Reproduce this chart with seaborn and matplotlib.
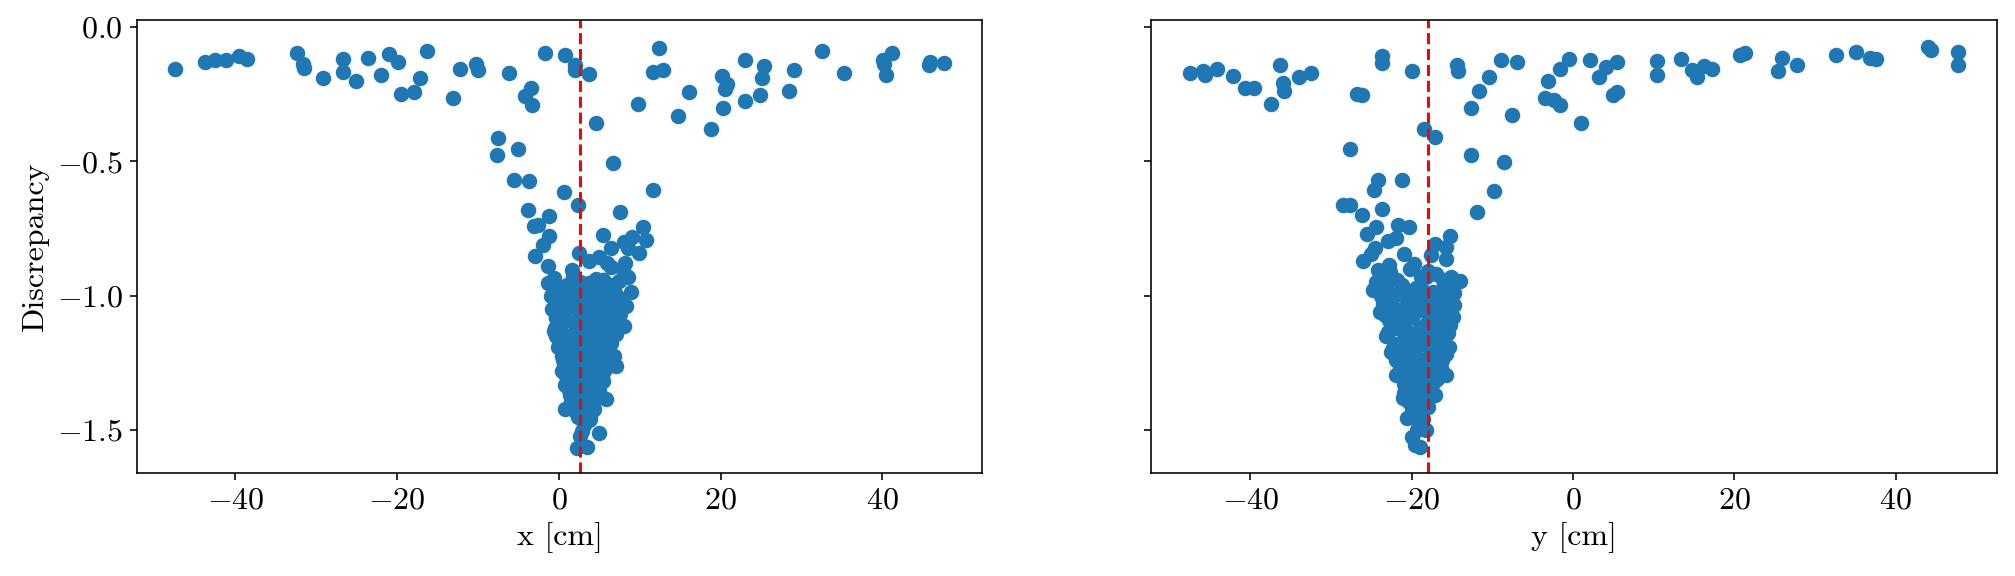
import matplotlib
matplotlib.use("Agg")
import matplotlib.pyplot as plt
import seaborn as sns
import pandas as pd

# discrepancy vs x position (left panel)
x_pos = [
    -47.4, -43.7, -42.5, -41.2, -39.5, -38.6, -32.4, -31.6, -31.5, -29.1,
    -26.7, -26.7, -25.1, -23.6, -22.0, -21.0, -19.9, -19.5, -17.9, -17.2,
    -16.3, -13.1, -12.2, -10.2, -10.0, -6.2, -3.4, -4.2, -3.3, -1.7,
    0.7, -7.5, -7.7, -5.1, -5.5, -3.7, 0.6, -3.8, -1.2,
    2.0, 2.0, 3.7, 12.4, 11.6, 12.9, 9.75, 4.6, 16.1, 14.7,
    18.8, 20.2, 20.8, 20.5, 20.3, 23.0, 23.0, 25.3, 25.1, 24.8,
    29.0, 28.4, 32.5, 35.2, 40.1, 40.2, 41.2, 40.4, 45.7, 45.9,
    47.6, 6.7, 2.4, 11.6, 7.5,
    -3.1, -2.55, -1.2, -2.0, -2.9, -1.4, 5.5, 10.4, 10.8, 9.0,
    8.0, 6.4, 8.6, 9.9, 2.5, 3.7, 4.9, 6.0, 6.5, 8.2,
    8.0, 1.6, 1.8, -0.6, -1.4, 3.7, 4.6, 5.4, 7.4, 8.9,
    -1.0, 0.2, 0.8, 3.5, 7.4, -0.8, 7.0, 7.6, -0.4, 8.0,
    -0.6, -0.4, 7.0, 6.4, 0.2, 0.4, 6.8, 7.0, 0.6, 5.4,
    5.4, 0.8, 1.4, 5.8, 0.8, 2.5, 4.2, 3.7, 2.9, 4.9,
    2.2, 3.5,
    -0.2, 1.0, 2.2, 3.0, 4.2, 5.8, 6.5,
    0.1, 1.5, 2.0, 4.4, 5.2, 6.1,
    -0.3, 0.9, 2.6, 3.3, 4.0, 5.5, 6.4,
    0.3, 1.3, 2.2, 3.9, 4.7, 5.9,
    -0.1, 1.0, 1.9, 3.1, 4.3, 5.6, 6.2,
    0.5, 1.6, 2.8, 3.6, 4.9, 5.8,
    0.9, 1.8, 2.5, 3.4, 4.5,
    1.2, 2.1, 3.0, 4.0, 5.0,
    1.7, 3.2, 4.3, 2.3, 3.8, 3.1,
    1.8, 2.9, 0.6, 2.7, 3.7, 4.9,
    0.4, 1.5, 2.6, 3.5, 4.6, 5.4, 6.6,
    -0.1, 0.8, 1.9, 3.0, 4.0, 5.0, 5.9,
    0.2, 1.2, 2.4, 3.4, 4.4, 5.3, 6.4,
    0.6, 1.5, 2.6, 3.8, 4.6, 5.5,
    1.0, 2.0, 3.0, 3.9, 4.8,
    1.5, 2.6, 3.5, 4.4,
    2.0, 2.9, 3.9, 2.6,
    -0.5, 0.4, 6.9, 7.3, 8.3, 8.6,
]
x_disc = [
    -0.155, -0.129, -0.125, -0.125, -0.108, -0.118, -0.099, -0.137, -0.152, -0.189,
    -0.118, -0.168, -0.203, -0.114, -0.180, -0.102, -0.129, -0.249, -0.241, -0.189,
    -0.088, -0.263, -0.155, -0.137, -0.162, -0.170, -0.229, -0.256, -0.290, -0.096,
    -0.106, -0.413, -0.476, -0.456, -0.570, -0.573, -0.614, -0.681, -0.703,
    -0.143, -0.162, -0.176, -0.077, -0.166, -0.162, -0.285, -0.356, -0.244, -0.331,
    -0.379, -0.184, -0.211, -0.230, -0.301, -0.122, -0.274, -0.147, -0.189, -0.255,
    -0.162, -0.240, -0.091, -0.170, -0.122, -0.137, -0.099, -0.180, -0.140, -0.131,
    -0.133, -0.506, -0.663, -0.606, -0.688,
    -0.742, -0.736, -0.777, -0.811, -0.852, -0.889, -0.774, -0.746, -0.793, -0.783,
    -0.802, -0.821, -0.821, -0.840, -0.840, -0.871, -0.856, -0.877, -0.893, -0.877,
    -0.914, -0.905, -0.927, -0.933, -0.951, -0.951, -0.939, -0.943, -0.945, -0.986,
    -1.001, -0.989, -1.020, -1.013, -1.007, -1.051, -1.045, -1.069, -1.082, -1.113,
    -1.132, -1.150, -1.144, -1.175, -1.188, -1.225, -1.225, -1.262, -1.256, -1.287,
    -1.318, -1.331, -1.368, -1.383, -1.420, -1.430, -1.424, -1.461, -1.505, -1.511,
    -1.565, -1.561,
    -0.97, -0.96, -0.98, -0.99, -0.97, -0.98, -0.96,
    -1.03, -1.04, -1.02, -1.03, -1.05, -1.02,
    -1.08, -1.09, -1.07, -1.10, -1.08, -1.09, -1.10,
    -1.13, -1.15, -1.12, -1.14, -1.12, -1.15,
    -1.19, -1.20, -1.18, -1.21, -1.19, -1.20, -1.18,
    -1.24, -1.26, -1.24, -1.25, -1.24, -1.27,
    -1.30, -1.29, -1.31, -1.30, -1.32,
    -1.35, -1.36, -1.34, -1.37, -1.35,
    -1.40, -1.41, -1.42, -1.45, -1.46, -1.48,
    -1.00, -1.05, -1.17, -1.16, -1.04, -1.00,
    -1.00, -1.01, -0.95, -1.06, -1.00, -0.94, -1.01,
    -1.11, -1.06, -1.10, -1.12, -1.11, -1.13, -1.06,
    -1.16, -1.22, -1.15, -1.18, -1.16, -1.17, -1.14,
    -1.28, -1.21, -1.27, -1.21, -1.28, -1.23,
    -1.33, -1.33, -1.27, -1.33, -1.28,
    -1.39, -1.39, -1.38, -1.39,
    -1.43, -1.43, -1.44, -1.52,
    -1.12, -1.28, -0.99, -1.10, -1.04, -0.93,
]

# discrepancy vs y position (right panel)
y_pos = [
    -47.5, -45.9, -45.6, -44.1, -42.1, -40.7, -39.5, -37.5, -36.3, -35.9,
    -35.8, -34.0, -32.5, -26.8, -26.1, -23.7, -23.7, -20.0, -18.5, -17.1,
    -27.7, -14.4, -14.2, -8.9, -6.9, -10.4, -11.6, -12.7, -7.6, -3.1,
    -3.5, -12.6, -8.55, -24.2, -24.7, -21.2, -9.8, -11.9, -28.5, -27.6,
    -26.1, -23.7,
    -1.65, -0.5, -2.3, -1.65, 1.04, 2.15, 4.05, 3.2, 5.45, 4.95,
    5.4, 10.4, 10.4, 13.4, 14.8, 15.4, 16.3, 17.2, 20.7, 21.3,
    25.9, 25.4, 27.8, 32.6, 35.1, 36.8, 37.6, 44.0, 44.4, 47.8,
    47.8,
    -24.4, -25.5, -21.7, -20.3, -22.9, -22.0, -24.6, -25.0, -26.0, -20.9,
    -19.7, -22.8, -24.2, -15.3, -17.1, -15.7, -17.6, -15.8, -18.0, -18.8,
    -23.3, -24.8, -15.1, -15.5, -19.0, -21.9, -20.6, -17.3, -23.3, -22.9,
    -22.3, -21.9, -21.9, -15.7, -21.1, -18.0, -20.6, -19.2, -20.0, -18.2,
    -19.0, -19.6,
    -15.3, -14.0, -16.1, -14.7, -14.9, -15.5, -15.7, -17.3, -18.2,
    -23.0, -21.2, -19.5, -17.8, -16.3,
    -23.6, -22.1, -20.4, -18.6, -17.0, -15.8,
    -22.8, -21.5, -19.9, -18.3, -16.6,
    -23.2, -21.0, -20.2, -18.9, -17.4, -16.1,
    -22.6, -20.9, -19.6, -18.1, -16.9,
    -21.4, -20.1, -18.7, -17.2, -16.4,
    -21.0, -19.8, -18.5, -17.6,
    -20.4, -19.3, -17.9, -19.8, -18.6, -19.4,
    -21.8, -18.2, -20.0,
    -22.4, -20.8, -19.1, -17.4, -15.9, -14.8,
    -23.9, -22.6, -21.1, -19.6, -18.0, -16.5, -15.2,
    -22.1, -20.6, -19.0, -17.7, -16.0,
    -21.9, -20.5, -19.1, -17.8, -16.6, -15.4,
    -21.8, -20.5, -19.2, -17.8, -16.2,
    -20.7, -19.4, -18.1, -16.9,
    -20.9, -19.9, -18.4, -17.1,
    -19.9, -18.9, -19.1,
    -23.8, -24.4, -22.7, -20.2, -17.0, -16.4,
]
y_disc = [
    -0.170, -0.164, -0.180, -0.155, -0.181, -0.229, -0.229, -0.285, -0.140, -0.208,
    -0.239, -0.188, -0.170, -0.248, -0.255, -0.109, -0.136, -0.165, -0.378, -0.411,
    -0.455, -0.142, -0.164, -0.124, -0.131, -0.188, -0.239, -0.300, -0.328, -0.202,
    -0.263, -0.475, -0.504, -0.570, -0.605, -0.568, -0.612, -0.687, -0.664, -0.661,
    -0.700, -0.679,
    -0.155, -0.120, -0.273, -0.289, -0.356, -0.124, -0.149, -0.186, -0.132, -0.254,
    -0.242, -0.126, -0.180, -0.118, -0.161, -0.186, -0.145, -0.158, -0.103, -0.099,
    -0.115, -0.164, -0.140, -0.105, -0.093, -0.114, -0.121, -0.074, -0.087, -0.093,
    -0.142,
    -0.744, -0.771, -0.737, -0.744, -0.796, -0.787, -0.824, -0.843, -0.870, -0.845,
    -0.882, -0.886, -0.905, -0.778, -0.808, -0.818, -0.849, -0.865, -0.907, -0.930,
    -0.936, -0.977, -0.930, -0.954, -0.967, -0.998, -0.985, -0.985, -1.072, -1.134,
    -1.196, -1.240, -1.295, -1.295, -1.382, -1.413, -1.456, -1.450, -1.527, -1.500,
    -1.562, -1.556,
    -0.942, -0.946, -0.942, -1.035, -1.078, -1.140, -1.215, -1.326, -1.413,
    -0.98, -0.96, -0.97, -0.99, -0.98,
    -1.03, -1.05, -1.02, -1.04, -1.03, -1.06,
    -1.09, -1.10, -1.08, -1.11, -1.09,
    -1.15, -1.16, -1.14, -1.17, -1.15, -1.16,
    -1.21, -1.22, -1.20, -1.23, -1.21,
    -1.27, -1.28, -1.26, -1.29, -1.27,
    -1.33, -1.34, -1.32, -1.35,
    -1.39, -1.40, -1.38, -1.44, -1.46, -1.50,
    -0.94, -0.93, -1.00,
    -1.01, -1.00, -1.02, -1.01, -1.01, -0.99,
    -1.06, -1.07, -1.05, -1.06, -1.07, -1.06, -1.11,
    -1.12, -1.13, -1.12, -1.13, -1.12,
    -1.18, -1.19, -1.18, -1.19, -1.18, -1.19,
    -1.24, -1.25, -1.24, -1.25, -1.24,
    -1.30, -1.31, -1.30, -1.31,
    -1.36, -1.37, -1.36, -1.37,
    -1.42, -1.42, -1.48,
    -1.00, -0.95, -0.91, -0.90, -0.92, -1.01,
]

x_mark = 2.64
y_mark = -18.0

plt.rcParams.update({
    "font.family": "serif",
    "font.serif": ["cmr10", "DejaVu Serif"],
    "mathtext.fontset": "cm",
    "axes.formatter.use_mathtext": True,
    "font.size": 16,
})

df_x = pd.DataFrame({"pos": x_pos, "disc": x_disc})
df_y = pd.DataFrame({"pos": y_pos, "disc": y_disc})

fig, axes = plt.subplots(1, 2, figsize=(2015 / 144, 4), dpi=144, sharey=True)

sns.scatterplot(data=df_x, x="pos", y="disc", ax=axes[0], color="#1f77b4",
                s=60, linewidth=0)
axes[0].axvline(x_mark, color="red", linestyle="--", linewidth=1.5)
axes[0].set_xlabel("x [cm]")
axes[0].set_ylabel("Discrepancy")

sns.scatterplot(data=df_y, x="pos", y="disc", ax=axes[1], color="#1f77b4",
                s=60, linewidth=0)
axes[1].axvline(y_mark, color="red", linestyle="--", linewidth=1.5)
axes[1].set_xlabel("y [cm]")
axes[1].set_ylabel("")

axes[0].set_ylim(-1.659, 0.025)
axes[0].set_yticks([0.0, -0.5, -1.0, -1.5])

fig.subplots_adjust(left=0.068, right=0.991, top=0.965, bottom=0.179, wspace=0.2)
fig.savefig("out.png", dpi=144)
